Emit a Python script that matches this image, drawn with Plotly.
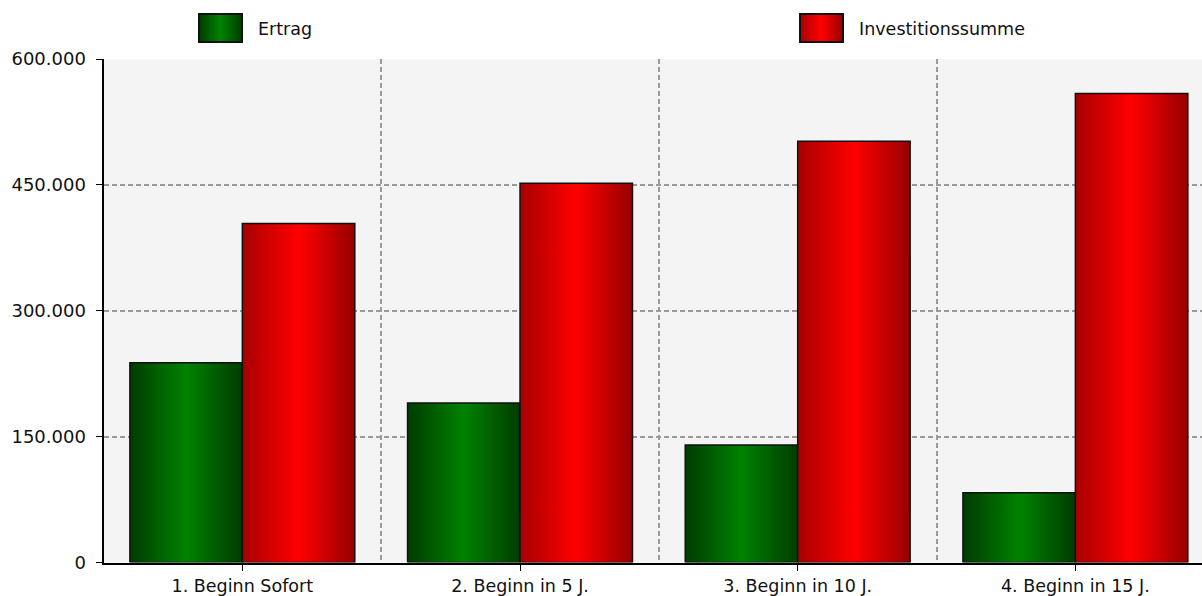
import base64
import plotly.graph_objects as go

# ---- data ----
categories = ["1. Beginn Sofort", "2. Beginn in 5 J.", "3. Beginn in 10 J.", "4. Beginn in 15 J."]
series_names = ["Ertrag", "Investitionssumme"]
ertrag = [238000, 190000, 140000, 83000]
investition = [404000, 452000, 502000, 559000]
y_ticks = [0, 150000, 300000, 450000, 600000]

# ---- styling ----
W, H = 1202, 596
BAR_W = 0.405
green_scale = [[0, "#003c00"], [0.5, "#008200"], [1, "#003c00"]]
red_scale = [[0, "#a80000"], [0.5, "#ff0000"], [1, "#960000"]]
FONT = "DejaVu Sans"
GRID = "#9a9a9a"
DASH = "5px,3px"
TXT = "#111111"

fig = go.Figure()

for i, cat in enumerate(categories):
    for j, (vals, scale) in enumerate([(ertrag, green_scale), (investition, red_scale)]):
        x0 = i - BAR_W + j * BAR_W
        x1 = x0 + BAR_W
        v = vals[i]
        fig.add_trace(go.Scatter(
            x=[x0, x1, x1, x0, x0], y=[0, 0, v, v, 0],
            mode="lines", fill="toself",
            fillgradient=dict(type="horizontal", colorscale=scale),
            line=dict(color="#111111", width=1.5),
            name=series_names[j], showlegend=False, hoverinfo="skip",
        ))


def swatch(c_edge, c_mid, c_edge2):
    svg = (
        "<svg xmlns='http://www.w3.org/2000/svg' width='45' height='30'>"
        "<defs><linearGradient id='g' x1='0' x2='1' y1='0' y2='0'>"
        f"<stop offset='0' stop-color='{c_edge}'/><stop offset='0.5' stop-color='{c_mid}'/>"
        f"<stop offset='1' stop-color='{c_edge2}'/></linearGradient></defs>"
        "<rect x='1' y='1' width='43' height='28' fill='url(#g)' stroke='#111' stroke-width='2'/></svg>"
    )
    return "data:image/svg+xml;base64," + base64.b64encode(svg.encode()).decode()


legend_items = [
    (series_names[0], swatch("#003c00", "#008200", "#003c00"), 198, 256),
    (series_names[1], swatch("#a80000", "#ff0000", "#960000"), 799, 857),
]
images = []
annotations = []
for name, src, bx, tx in legend_items:
    images.append(dict(source=src, xref="paper", yref="paper", x=bx / W, y=1 - 13 / H,
                       sizex=45 / W, sizey=30 / H, xanchor="left", yanchor="top",
                       sizing="stretch", layer="above"))
    annotations.append(dict(text=name, xref="paper", yref="paper", x=tx / W, y=1 - 29 / H,
                            xanchor="left", yanchor="middle", showarrow=False,
                            font=dict(family=FONT, size=17.5, color=TXT)))

fig.update_layout(
    width=W, height=H,
    margin=dict(l=0, r=0, t=0, b=0, pad=0),
    paper_bgcolor="white", plot_bgcolor="#f4f4f4",
    separators=",.",
    font=dict(family=FONT, size=18, color=TXT),
    showlegend=False,
    images=images, annotations=annotations,
    xaxis=dict(
        domain=[103.5 / W, 1], range=[-0.5, 3.456],
        automargin=False,
        tickmode="array", tickvals=list(range(len(categories))), ticktext=categories,
        ticks="outside", ticklen=6, tickcolor="#000", tickwidth=1,
        showgrid=False, zeroline=False,
        showline=True, linecolor="#000", linewidth=2,
        tickfont=dict(family=FONT, size=17.5, color=TXT),
        minor=dict(tick0=0.5, dtick=1, showgrid=True, gridcolor=GRID, griddash=DASH,
                   gridwidth=1.5, ticks=""),
        fixedrange=True,
    ),
    yaxis=dict(
        domain=[(H - 562.5) / H, (H - 59) / H], range=[0, 600000],
        automargin=False,
        tickmode="array", tickvals=y_ticks, tickformat=",.0f",
        ticks="outside", ticklen=6, tickcolor="#000", tickwidth=1,
        showgrid=True, gridcolor=GRID, griddash=DASH, gridwidth=1.5,
        zeroline=False,
        showline=True, linecolor="#000", linewidth=2,
        tickfont=dict(family=FONT, size=18, color=TXT),
        ticklabelstandoff=6,
        fixedrange=True,
    ),
)

fig.write_html("out.html")
